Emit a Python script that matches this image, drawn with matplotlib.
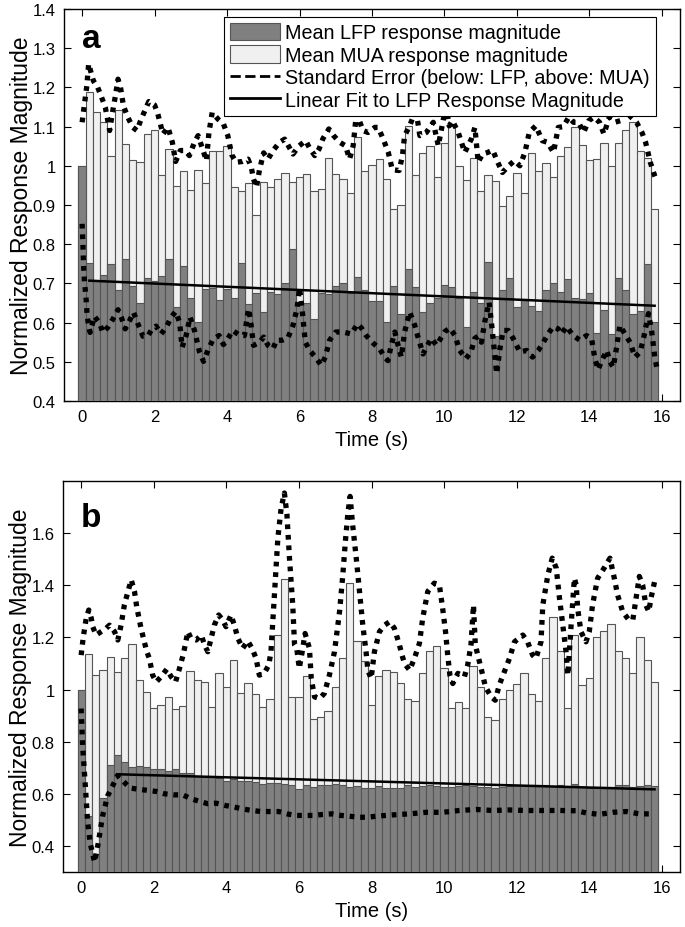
import numpy as np
import matplotlib
matplotlib.use('Agg')
import matplotlib.pyplot as plt
from matplotlib.patches import Patch
from matplotlib.lines import Line2D

plt.rcParams['font.family'] = ['Liberation Sans', 'DejaVu Sans']

BIN = 0.2
time_bins = np.round(np.arange(80) * BIN, 2)

# ---------------- panel a ----------------
lfp_a = [1.000, 0.751, 0.707, 0.721, 0.749, 0.684, 0.761, 0.693, 0.650, 0.713,
         0.706, 0.719, 0.762, 0.641, 0.745, 0.663, 0.601, 0.686, 0.688, 0.658,
         0.686, 0.664, 0.751, 0.647, 0.675, 0.626, 0.679, 0.673, 0.701, 0.788,
         0.647, 0.650, 0.608, 0.675, 0.674, 0.693, 0.700, 0.676, 0.716, 0.684,
         0.656, 0.656, 0.601, 0.693, 0.622, 0.737, 0.690, 0.626, 0.651, 0.664,
         0.696, 0.690, 0.664, 0.590, 0.677, 0.650, 0.754, 0.567, 0.684, 0.713,
         0.641, 0.660, 0.643, 0.629, 0.682, 0.701, 0.677, 0.711, 0.664, 0.659,
         0.675, 0.573, 0.632, 0.571, 0.715, 0.682, 0.622, 0.629, 0.749, 0.601]
mua_a = [1.000, 1.189, 1.136, 1.113, 1.026, 1.143, 1.056, 1.016, 1.009, 1.080,
         1.092, 0.977, 1.042, 0.949, 0.988, 0.938, 0.989, 0.956, 1.039, 1.037,
         1.050, 0.947, 0.935, 0.955, 0.875, 0.958, 0.945, 0.966, 0.982, 0.958,
         0.971, 0.978, 0.935, 0.940, 1.019, 0.978, 0.966, 0.930, 1.074, 0.988,
         1.001, 1.017, 0.966, 0.891, 0.901, 1.102, 0.977, 1.033, 1.051, 0.972,
         1.058, 1.102, 1.000, 0.965, 1.019, 0.935, 0.976, 0.961, 0.897, 0.924,
         0.982, 0.930, 1.033, 0.988, 1.006, 0.972, 1.026, 1.049, 1.100, 1.054,
         1.014, 1.017, 1.059, 1.000, 1.057, 1.092, 1.113, 1.039, 1.019, 0.890]

se_lfp_a_t = [0.00, 0.02, 0.04, 0.06, 0.11, 0.14, 0.18, 0.22, 0.27, 0.34, 0.48, 0.57,
              0.71, 0.85, 0.99, 1.08, 1.19, 1.31, 1.42, 1.54, 1.68, 1.81, 1.93, 2.04,
              2.18, 2.32, 2.46, 2.58, 2.69, 2.76, 2.87, 2.98, 3.10, 3.24, 3.35, 3.47,
              3.61, 3.78, 3.90, 4.02, 4.16, 4.35, 4.48, 4.59, 4.64, 4.73, 4.90, 5.01,
              5.13, 5.27, 5.36, 5.52, 5.68, 5.82, 5.93, 6.00, 6.07, 6.16, 6.28, 6.44,
              6.60, 6.71, 6.83, 7.00, 7.20, 7.43, 7.60, 7.71, 7.84, 8.03, 8.21, 8.35,
              8.44, 8.53, 8.63, 8.72, 8.81, 8.90, 9.04, 9.18, 9.27, 9.41, 9.50, 9.64,
              9.78, 9.92, 10.01, 10.15, 10.29, 10.42, 10.59, 10.73, 10.84, 10.93, 11.02,
              11.11, 11.23, 11.30, 11.39, 11.44, 11.53, 11.62, 11.76, 11.90, 12.08,
              12.27, 12.43, 12.59, 12.73, 12.86, 13.00, 13.14, 13.23, 13.37, 13.55,
              13.74, 13.92, 14.06, 14.15, 14.24, 14.34, 14.48, 14.57, 14.66, 14.75,
              14.84, 14.98, 15.12, 15.26, 15.40, 15.51, 15.63, 15.72, 15.81, 15.86]
se_lfp_a_v = [0.852, 0.805, 0.745, 0.711, 0.660, 0.617, 0.592, 0.575, 0.592, 0.616, 0.599, 0.575,
              0.588, 0.609, 0.633, 0.614, 0.584, 0.605, 0.626, 0.597, 0.565, 0.565, 0.584, 0.591,
              0.571, 0.588, 0.614, 0.628, 0.601, 0.537, 0.567, 0.614, 0.580, 0.525, 0.501, 0.529,
              0.557, 0.567, 0.544, 0.559, 0.580, 0.567, 0.567, 0.635, 0.612, 0.542, 0.550, 0.563,
              0.542, 0.533, 0.555, 0.555, 0.561, 0.593, 0.635, 0.688, 0.635, 0.550, 0.529, 0.512,
              0.491, 0.512, 0.555, 0.576, 0.576, 0.571, 0.597, 0.586, 0.567, 0.548, 0.533, 0.512,
              0.503, 0.542, 0.576, 0.542, 0.512, 0.576, 0.627, 0.593, 0.563, 0.520, 0.537, 0.560,
              0.542, 0.563, 0.577, 0.586, 0.567, 0.529, 0.508, 0.525, 0.560, 0.565, 0.550,
              0.601, 0.652, 0.597, 0.516, 0.470, 0.533, 0.580, 0.580, 0.559, 0.525,
              0.529, 0.512, 0.529, 0.550, 0.571, 0.590, 0.584, 0.571, 0.590, 0.567,
              0.555, 0.567, 0.559, 0.508, 0.480, 0.503, 0.529, 0.499, 0.486, 0.537,
              0.593, 0.571, 0.550, 0.512, 0.525, 0.567, 0.623, 0.576, 0.508, 0.486]

se_mua_a_t = [0.00, 0.06, 0.13, 0.18, 0.25, 0.31, 0.43, 0.52, 0.64, 0.76, 0.83, 0.92,
              0.99, 1.06, 1.14, 1.26, 1.40, 1.51, 1.63, 1.75, 1.84, 2.00, 2.09, 2.23,
              2.37, 2.49, 2.58, 2.71, 2.85, 2.96, 3.10, 3.20, 3.31, 3.43, 3.50, 3.59,
              3.75, 3.90, 4.02, 4.13, 4.25, 4.42, 4.58, 4.67, 4.73, 4.81, 4.90, 5.01,
              5.13, 5.27, 5.45, 5.59, 5.70, 5.82, 5.99, 6.17, 6.28, 6.42, 6.54, 6.65,
              6.81, 6.94, 7.11, 7.27, 7.38, 7.48, 7.55, 7.66, 7.75, 7.89, 8.08, 8.17,
              8.31, 8.45, 8.56, 8.75, 8.84, 8.90, 9.04, 9.13, 9.20, 9.32, 9.50, 9.69,
              9.83, 9.98, 10.05, 10.13, 10.22, 10.38, 10.56, 10.74, 10.84, 10.93, 11.05,
              11.19, 11.33, 11.47, 11.60, 11.77, 11.93, 12.08, 12.22, 12.34, 12.52, 12.70,
              12.84, 13.01, 13.14, 13.28, 13.43, 13.56, 13.70, 13.84, 13.98, 14.12, 14.28,
              14.40, 14.55, 14.70, 14.85, 15.00, 15.15, 15.30, 15.45, 15.55, 15.68, 15.80, 15.86]
se_mua_a_v = [1.111, 1.153, 1.204, 1.260, 1.237, 1.217, 1.200, 1.179, 1.149, 1.090, 1.132, 1.179,
              1.221, 1.200, 1.153, 1.124, 1.098, 1.090, 1.119, 1.145, 1.164, 1.155, 1.132, 1.081,
              1.098, 1.060, 1.011, 1.039, 1.039, 1.026, 1.060, 1.077, 1.047, 1.013, 1.085, 1.136,
              1.119, 1.107, 1.077, 1.028, 1.009, 1.011, 1.017, 0.996, 0.966, 0.945, 0.992, 1.033,
              1.017, 1.039, 1.060, 1.068, 1.050, 1.030, 1.051, 1.064, 1.045, 1.026, 1.043, 1.070,
              1.094, 1.077, 1.060, 1.051, 1.017, 1.051, 1.115, 1.113, 1.090, 1.085, 1.098, 1.098,
              1.068, 1.034, 0.990, 0.988, 1.026, 1.077, 1.102, 1.124, 1.150, 1.077, 1.085, 1.111,
              1.051, 1.124, 1.150, 1.102, 1.115, 1.085, 1.034, 1.068, 1.098, 1.009, 1.030,
              1.034, 1.040, 1.009, 0.983, 1.000, 1.013, 1.000, 1.034, 1.085, 1.102, 1.064,
              1.060, 1.034, 1.098, 1.100, 1.124, 1.111, 1.111, 1.085, 1.115, 1.124, 1.111,
              1.081, 1.124, 1.111, 1.115, 1.140, 1.124, 1.111, 1.085, 1.060, 1.009, 0.975, 0.962]

fit_a_t = [0.2, 15.8]
fit_a_v = [0.707, 0.643]

# ---------------- panel b ----------------
lfp_b = [1.000, 0.515, 0.370, 0.585, 0.712, 0.747, 0.722, 0.704, 0.706, 0.703,
         0.696, 0.696, 0.686, 0.694, 0.681, 0.678, 0.668, 0.663, 0.663, 0.660,
         0.651, 0.658, 0.651, 0.651, 0.645, 0.638, 0.640, 0.640, 0.637, 0.632,
         0.619, 0.632, 0.626, 0.632, 0.632, 0.638, 0.632, 0.628, 0.630, 0.623,
         0.623, 0.630, 0.623, 0.623, 0.623, 0.632, 0.628, 0.630, 0.632, 0.630,
         0.628, 0.628, 0.630, 0.632, 0.630, 0.628, 0.626, 0.623, 0.628, 0.630,
         0.632, 0.632, 0.632, 0.634, 0.632, 0.630, 0.632, 0.628, 0.636, 0.626,
         0.623, 0.628, 0.626, 0.626, 0.634, 0.634, 0.628, 0.630, 0.632, 0.630]
mua_b = [1.000, 1.138, 1.055, 1.074, 1.126, 1.068, 1.122, 1.173, 1.036, 0.991,
         0.929, 0.942, 0.972, 0.924, 0.937, 1.073, 1.037, 1.027, 0.933, 1.062,
         1.010, 1.112, 0.988, 1.026, 0.981, 0.933, 0.963, 1.209, 1.424, 0.972,
         0.972, 1.053, 0.888, 0.895, 0.918, 1.008, 1.122, 1.408, 1.186, 1.109,
         0.942, 1.053, 1.074, 1.068, 1.026, 0.962, 0.956, 1.062, 1.147, 1.168,
         1.083, 0.929, 0.953, 0.929, 1.091, 1.010, 0.895, 0.882, 0.965, 1.000,
         1.022, 1.062, 0.982, 0.956, 1.122, 1.277, 1.149, 0.929, 1.209, 1.017,
         1.045, 1.203, 1.224, 1.250, 1.147, 1.122, 1.063, 1.203, 1.113, 1.029]

se_lfp_b_t = [0.00, 0.04, 0.12, 0.18, 0.25, 0.37, 0.47, 0.59, 0.73, 0.87, 1.00, 1.35,
              1.61, 1.84, 2.07, 2.30, 2.57, 2.80, 3.03, 3.26, 3.49, 3.72, 3.98, 4.22,
              4.45, 4.70, 4.96, 5.21, 5.44, 5.67, 5.92, 6.17, 6.43, 6.66, 6.91, 7.16,
              7.39, 7.67, 7.90, 8.13, 8.58, 9.04, 9.50, 9.96, 10.42, 10.88, 11.34, 11.80,
              12.26, 12.72, 13.18, 13.64, 13.91, 14.28, 14.65, 15.02, 15.38, 15.75]
se_lfp_b_v = [0.927, 0.786, 0.620, 0.490, 0.410, 0.338, 0.410, 0.515, 0.592, 0.631, 0.670, 0.622,
              0.617, 0.613, 0.609, 0.600, 0.596, 0.596, 0.581, 0.571, 0.562, 0.564, 0.555, 0.549,
              0.542, 0.536, 0.532, 0.532, 0.532, 0.523, 0.517, 0.517, 0.517, 0.521, 0.523, 0.517,
              0.514, 0.510, 0.510, 0.514, 0.519, 0.523, 0.529, 0.529, 0.536, 0.540, 0.536, 0.538,
              0.536, 0.536, 0.536, 0.535, 0.527, 0.521, 0.529, 0.532, 0.523, 0.523]

se_mua_b_t = [0.00, 0.06, 0.14, 0.21, 0.28, 0.32, 0.41, 0.55, 0.69, 0.78, 0.92, 1.01,
              1.10, 1.19, 1.29, 1.38, 1.47, 1.53, 1.65, 1.74, 1.81, 1.88, 1.97, 2.07,
              2.20, 2.36, 2.48, 2.60, 2.71, 2.82, 2.94, 3.03, 3.17, 3.31, 3.40, 3.49,
              3.58, 3.67, 3.79, 3.90, 3.99, 4.13, 4.22, 4.32, 4.45, 4.59, 4.71, 4.82,
              4.91, 5.05, 5.17, 5.23, 5.33, 5.42, 5.51, 5.60, 5.67, 5.74, 5.83, 5.88,
              5.94, 6.01, 6.09, 6.17, 6.29, 6.34, 6.43, 6.57, 6.70, 6.84, 6.98, 7.12,
              7.21, 7.28, 7.35, 7.41, 7.48, 7.58, 7.67, 7.76, 7.85, 7.90, 7.99, 8.08,
              8.22, 8.36, 8.50, 8.63, 8.77, 8.84, 8.91, 9.05, 9.18, 9.32, 9.41, 9.55,
              9.73, 9.87, 9.96, 10.04, 10.10, 10.16, 10.24, 10.38, 10.56, 10.65, 10.74,
              10.81, 10.86, 11.02, 11.14, 11.30, 11.41, 11.52, 11.66, 11.80, 11.94, 12.17,
              12.30, 12.44, 12.53, 12.67, 12.72, 12.86, 12.98, 13.09, 13.18, 13.27, 13.36,
              13.41, 13.50, 13.59, 13.64, 13.68, 13.77, 13.91, 14.00, 14.09, 14.23, 14.41,
              14.57, 14.69, 14.78, 14.92, 15.09, 15.20, 15.29, 15.38, 15.47, 15.56, 15.64,
              15.70, 15.80]
se_mua_b_v = [1.132, 1.203, 1.273, 1.305, 1.273, 1.241, 1.209, 1.222, 1.235, 1.247, 1.222, 1.190,
              1.247, 1.324, 1.376, 1.421, 1.376, 1.318, 1.235, 1.183, 1.145, 1.119, 1.055, 1.029,
              1.049, 1.078, 1.049, 1.029, 1.081, 1.138, 1.222, 1.196, 1.190, 1.209, 1.171, 1.145,
              1.196, 1.247, 1.286, 1.267, 1.241, 1.286, 1.247, 1.196, 1.158, 1.186, 1.158, 1.119,
              1.055, 1.064, 1.094, 1.145, 1.376, 1.581, 1.696, 1.754, 1.671, 1.504, 1.324, 1.171,
              1.158, 1.081, 1.145, 1.215, 1.158, 1.042, 0.972, 0.965, 0.985, 1.055, 1.145, 1.299,
              1.440, 1.568, 1.677, 1.741, 1.632, 1.504, 1.376, 1.247, 1.145, 1.074, 1.042, 1.145,
              1.222, 1.247, 1.260, 1.235, 1.171, 1.132, 1.100, 1.074, 1.119, 1.177, 1.273, 1.376,
              1.408, 1.401, 1.312, 1.222, 1.132, 1.055, 1.023, 1.062, 1.049, 1.094, 1.171,
              1.324, 1.171, 1.081, 1.010, 0.972, 0.959, 1.017, 1.068, 1.119, 1.183, 1.209,
              1.183, 1.132, 1.119, 1.183, 1.324, 1.440, 1.504, 1.466, 1.350, 1.247, 1.145,
              1.055, 1.247, 1.427, 1.401, 1.312, 1.222, 1.183, 1.222, 1.324, 1.427, 1.466,
              1.504, 1.427, 1.363, 1.299, 1.267, 1.267, 1.350, 1.434, 1.401, 1.324, 1.299,
              1.350, 1.414]

fit_b_t = [1.0, 15.8]
fit_b_v = [0.675, 0.617]

x_ticks = [0, 2, 4, 6, 8, 10, 12, 14, 16]
y_ticks_a = [0.4, 0.5, 0.6, 0.7, 0.8, 0.9, 1.0, 1.1, 1.2, 1.3, 1.4]
y_tick_labels_a = ['0.4', '0.5', '0.6', '0.7', '0.8', '0.9', '1', '1.1', '1.2', '1.3', '1.4']
y_ticks_b = [0.4, 0.6, 0.8, 1.0, 1.2, 1.4, 1.6]
y_tick_labels_b = ['0.4', '0.6', '0.8', '1', '1.2', '1.4', '1.6']

DARK = '#808080'
LIGHT = '#f0f0f0'
EDGE = '#555555'

W, H = 685, 928
fig = plt.figure(figsize=(W / 100, H / 100), dpi=100)

def axes_px(left, right, top, bottom):
    return fig.add_axes([left / W, 1 - bottom / H, (right - left) / W, (bottom - top) / H])

ax_a = axes_px(64, 680, 10, 402)
ax_b = axes_px(63, 680, 482, 873)

def draw(ax, lfp, mua, se_l_t, se_l_v, se_m_t, se_m_v, fit_t, fit_v, ylim, yt, ytl, label, label_y):
    ax.bar(time_bins, mua, width=BIN, color=LIGHT, edgecolor=EDGE, linewidth=0.8, zorder=2)
    ax.bar(time_bins, lfp, width=BIN, color=DARK, edgecolor=EDGE, linewidth=0.8, zorder=3)
    dot = dict(color='black', linewidth=3.8, linestyle=(0, (0.9, 1.1)), zorder=5)
    ax.plot(se_l_t, se_l_v, **dot)
    ax.plot(se_m_t, se_m_v, **dot)
    ax.plot(fit_t, fit_v, color='black', linewidth=1.8, zorder=6)
    ax.set_xlim(-0.5, 16.5)
    ax.set_ylim(*ylim)
    ax.set_xticks(x_ticks)
    ax.set_xticklabels([str(v) for v in x_ticks])
    ax.set_yticks(yt)
    ax.set_yticklabels(ytl)
    ax.tick_params(direction='in', length=5, width=0.8, top=True, right=True,
                   labelsize=12, pad=6)
    for s in ax.spines.values():
        s.set_linewidth(1.0)
    ax.set_xlabel('Time (s)', fontsize=14.5, labelpad=4)
    ax.set_ylabel('Normalized Response Magnitude', fontsize=16.5, labelpad=0)
    ax.text(0, label_y, label, fontsize=24, fontweight='bold', zorder=10)

draw(ax_a, lfp_a, mua_a, se_lfp_a_t, se_lfp_a_v, se_mua_a_t, se_mua_a_v, fit_a_t, fit_a_v,
     (0.4, 1.4), y_ticks_a, y_tick_labels_a, 'a', 1.303)
draw(ax_b, lfp_b, mua_b, se_lfp_b_t, se_lfp_b_v, se_mua_b_t, se_mua_b_v, fit_b_t, fit_b_v,
     (0.3, 1.8), y_ticks_b, y_tick_labels_b, 'b', 1.627)

handles = [Patch(facecolor=DARK, edgecolor=EDGE, linewidth=0.8),
           Patch(facecolor=LIGHT, edgecolor=EDGE, linewidth=0.8),
           Line2D([], [], color='black', linestyle='--', linewidth=2),
           Line2D([], [], color='black', linestyle='-', linewidth=2)]
labels = ['Mean LFP response magnitude', 'Mean MUA response magnitude',
          'Standard Error (below: LFP, above: MUA)', 'Linear Fit to LFP Response Magnitude']
leg = ax_a.legend(handles, labels, loc='upper right', bbox_to_anchor=(0.961, 0.98),
                  borderaxespad=0, fontsize=14.2, handlelength=2.5, handleheight=1.0,
                  labelspacing=0.15, handletextpad=0.3, borderpad=0.3,
                  fancybox=False, framealpha=1, edgecolor='black')
leg.get_frame().set_linewidth(0.8)
leg.set_zorder(20)

fig.savefig('out.png', dpi=100)
